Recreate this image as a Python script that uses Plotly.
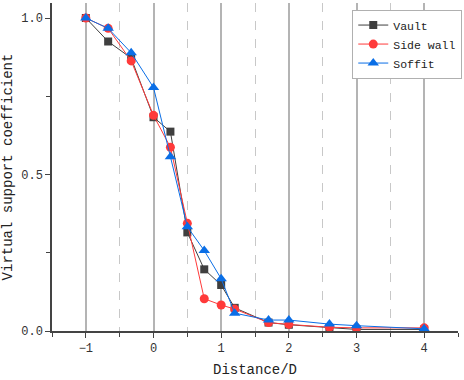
import plotly.graph_objects as go

distance = [-1, -0.67, -0.33, 0, 0.25, 0.5, 0.75, 1, 1.2, 1.7, 2, 2.6, 3, 4]
vault = [1.0, 0.925, 0.872, 0.683, 0.637, 0.315, 0.197, 0.147, 0.074, 0.027, 0.02, 0.01, 0.005, 0.005]
side_wall = [1.0, 0.967, 0.863, 0.689, 0.587, 0.344, 0.103, 0.083, 0.07, 0.027, 0.021, 0.012, 0.01, 0.01]
soffit = [1.0, 0.967, 0.889, 0.778, 0.557, 0.333, 0.257, 0.167, 0.057, 0.035, 0.035, 0.022, 0.017, 0.007]

FONT = "Liberation Mono"

fig = go.Figure()
fig.add_trace(go.Scatter(x=distance, y=vault, name="Vault", mode="lines+markers",
                         line=dict(color="#3f3f3f", width=1),
                         marker=dict(symbol="square", size=8, color="#3f3f3f")))
fig.add_trace(go.Scatter(x=distance, y=side_wall, name="Side wall", mode="lines+markers",
                         line=dict(color="#ff3a3a", width=1),
                         marker=dict(symbol="circle", size=9, color="#ff3a3a")))
fig.add_trace(go.Scatter(x=distance, y=soffit, name="Soffit", mode="lines+markers",
                         line=dict(color="#0a6ee6", width=1),
                         marker=dict(symbol="triangle-up", size=10, color="#0a6ee6")))

fig.update_layout(
    width=464, height=380,
    margin=dict(l=52, r=5, t=3, b=49),
    paper_bgcolor="white", plot_bgcolor="white",
    font=dict(family=FONT, size=12, color="#333"),
    showlegend=True,
    legend=dict(x=1.008, y=0.98, xanchor="right", yanchor="top",
                bgcolor="white", bordercolor="#b0b0b0", borderwidth=1,
                font=dict(family=FONT, size=11.5, color="#222"),
                tracegroupgap=0, itemwidth=30),
    xaxis=dict(range=[-1.5, 4.5], dtick=1, tick0=0, showline=True, linecolor="#444", linewidth=1.5,
               automargin=False,
               ticks="outside", ticklen=5, tickcolor="#444", tickwidth=1.2,
               showgrid=True, gridcolor="#b4b4b4", gridwidth=1.5, zeroline=False,
               minor=dict(dtick=0.5, ticks="outside", ticklen=4, tickcolor="#444",
                          showgrid=True, gridcolor="#c8c8c8", griddash="dash", gridwidth=1),
               title=dict(text="Distance/D", font=dict(family=FONT, size=14, color="#222"), standoff=9),
               tickfont=dict(family=FONT, size=12, color="#333")),
    yaxis=dict(range=[0, 1.048], tickvals=[0, 0.5, 1.0], tickformat=".1f", showline=True,
               automargin=False,
               linecolor="#444", linewidth=1.5, ticks="outside", ticklen=5, tickcolor="#444",
               tickwidth=1.2, showgrid=False, zeroline=False,
               minor=dict(tickvals=[0.25, 0.75], ticks="outside", ticklen=4, tickcolor="#444", showgrid=False),
               title=dict(text="Virtual support coefficient", font=dict(family=FONT, size=14, color="#222"), standoff=5),
               tickfont=dict(family=FONT, size=12, color="#333")),
)

fig.write_html("out.html", config={"displayModeBar": False},
               post_script="document.body.style.margin='0';")
